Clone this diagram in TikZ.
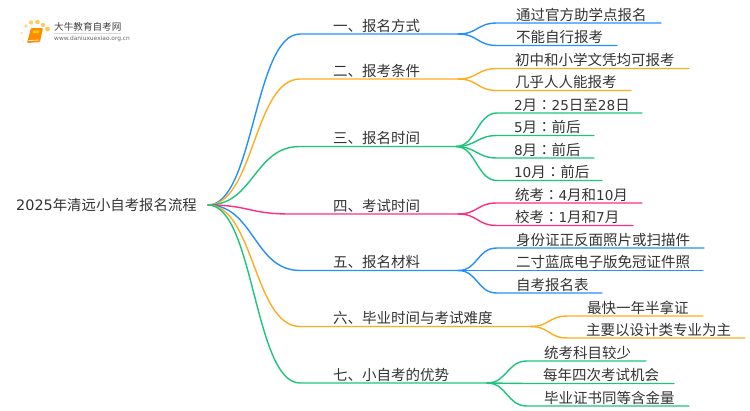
\documentclass[tikz,border=0pt]{standalone}
\usepackage{fontspec}
\setmainfont{Noto Sans CJK SC}
\newfontfamily\latinf{DejaVu Sans}
\newfontfamily\tcfont{Noto Sans CJK TC}
\newcommand{\Lt}[1]{{\latinf #1}}
\newcommand{\Ls}[1]{{\latinf\fontsize{13.6pt}{16pt}\selectfont #1}}
\newcommand{\Cl}{{\tcfont ：}}
\definecolor{cblue}{HTML}{2490FF}
\definecolor{corange}{HTML}{FFAD1F}
\definecolor{cgreen}{HTML}{1DC47A}
\definecolor{cpink}{HTML}{FF2E80}
\definecolor{ctext}{HTML}{333333}
\usetikzlibrary{calc}
\tikzset{
  x=1pt,y=-1pt,
  branch/.style={line width=1.4pt,line cap=round},
  lab/.style={anchor=south west,inner sep=0pt,outer sep=0pt,text height=12pt,text depth=2.8pt,align=left,font=\fontsize{14.5pt}{16pt}\selectfont,text=ctext},
  rootlab/.style={anchor=west,inner sep=0pt,font=\fontsize{14.4pt}{16pt}\selectfont,text=ctext},
}
% \branchnode{name}{x0}{x1}{yline}{indent}{text}
\newcommand{\branchnode}[6]{\node[lab,text width={#3pt-#2pt}] (#1) at (#2,#4) {\hspace*{#5pt}#6};}
% \link{from}{to}{colour}{from-anchor}{bend}
\newcommand{\link}[5]{\draw[branch,#3] (#1#4) .. controls +(#5,0) and ($(#2.south west)+(-#5,0)$) .. (#2.south west) -- (#2.south east);}
\begin{document}
\begin{tikzpicture}
\useasboundingbox (0,0) rectangle (750,410);
% logo
\foreach \p/\r/\cc in {{23,41}/1.0/FFE9B8,{22,33}/1.3/FFE3A6,{26,26}/1.9/FFD98A,{31,22.5}/2.2/FFCF6E,{37.5,22}/2.3/FFCB5E,{43,25}/2.1/FFCB5E,{47.5,29}/2.4/FFC850}{
  \definecolor{tmpc}{HTML}{\cc}
  \fill[tmpc] (\p) circle (\r);
}
\fill[rounded corners=1pt,fill=orange!90!yellow] (31,28) -- (43,28) -- (40,42) -- (27,43) -- cycle;
\draw[white!85!orange,line width=0.8pt] (28.5,40.6) -- (39,40);
\fill[yellow!70!orange] (33,30.5) -- (39.5,30.5) -- (39,33) -- (32.5,33) -- cycle;
\node[inner sep=0pt,anchor=west,font=\fontsize{9.6pt}{10pt}\selectfont,text=black!75] (logoa) at (54,27) {大牛教育自考网};
\node[inner sep=0pt,anchor=west,font=\fontsize{5.9pt}{7pt}\selectfont,text=black!60] (logob) at (54,39) {\Lt{www.daniuxuexiao.org.cn}};
\draw[black!15,line width=0.5pt] (54,33.5) -- (121,33.5);
% root
\node[rootlab] (root) at (16,205.5) {\Lt{2025}年清远小自考报名流程};
\coordinate (rootend) at (208,205);
% level one
\branchnode{a}{300}{458}{34}{33}{一、报名方式}
\branchnode{b}{300}{458}{79}{33}{二、报考条件}
\branchnode{c}{300}{456}{146.5}{33}{三、报名时间}
\branchnode{d}{290}{458}{214}{43}{四、考试时间}
\branchnode{e}{300}{458}{270.5}{33}{五、报名材料}
\branchnode{f}{300}{530}{326.5}{33}{六、毕业时间与考试难度}
\branchnode{g}{300}{487}{383}{33}{七、小自考的优势}
% level two
\branchnode{a1}{497}{661}{23}{19}{通过官方助学点报名}
\branchnode{a2}{497}{617}{45.5}{19}{不能自行报考}
\branchnode{b1}{497}{689}{68.5}{18}{初中和小学文凭均可报考}
\branchnode{b2}{497}{631}{90.5}{18}{几乎人人能报考}
\branchnode{c1}{497}{642}{113}{17}{\Ls{2}月\Cl\Ls{25}日至\Ls{28}日}
\branchnode{c2}{497}{594}{135.5}{17}{\Ls{5}月\Cl 前后}
\branchnode{c3}{497}{594}{158}{17}{\Ls{8}月\Cl 前后}
\branchnode{c4}{497}{602}{180.5}{17}{\Ls{10}月\Cl 前后}
\branchnode{d1}{497}{642}{203}{18}{统考\Cl\Ls{4}月和\Ls{10}月}
\branchnode{d2}{497}{633}{225.5}{18}{校考\Cl\Ls{1}月和\Ls{7}月}
\branchnode{e1}{497}{704}{248}{19}{身份证正反面照片或扫描件}
\branchnode{e2}{497}{703}{270.5}{19}{二寸蓝底电子版免冠证件照}
\branchnode{e3}{497}{602}{293}{19}{自考报名表}
\branchnode{f1}{568}{703}{316}{19}{最快一年半拿证}
\branchnode{f2}{568}{745}{338}{18}{主要以设计类专业为主}
\branchnode{g1}{527}{646}{361}{17}{统考科目较少}
\branchnode{g2}{527}{674}{383.5}{16}{每年四次考试机会}
\branchnode{g3}{527}{689}{406}{17}{毕业证书同等含金量}
% connectors
\link{rootend}{a}{cblue}{}{46}
\link{rootend}{b}{corange}{}{46}
\link{rootend}{c}{cgreen}{}{46}
\link{rootend}{d}{cpink}{}{41}
\link{rootend}{e}{cblue}{}{46}
\link{rootend}{f}{corange}{}{46}
\link{rootend}{g}{cgreen}{}{46}
\link{a}{a1}{cblue}{.south east}{20}
\link{a}{a2}{cblue}{.south east}{20}
\link{b}{b1}{corange}{.south east}{20}
\link{b}{b2}{corange}{.south east}{20}
\link{c}{c1}{cgreen}{.south east}{20}
\link{c}{c2}{cgreen}{.south east}{20}
\link{c}{c3}{cgreen}{.south east}{20}
\link{c}{c4}{cgreen}{.south east}{20}
\link{d}{d1}{cpink}{.south east}{20}
\link{d}{d2}{cpink}{.south east}{20}
\link{e}{e1}{cblue}{.south east}{20}
\link{e}{e2}{cblue}{.south east}{20}
\link{e}{e3}{cblue}{.south east}{20}
\link{f}{f1}{corange}{.south east}{20}
\link{f}{f2}{corange}{.south east}{20}
\link{g}{g1}{cgreen}{.south east}{20}
\link{g}{g2}{cgreen}{.south east}{20}
\link{g}{g3}{cgreen}{.south east}{20}
\end{tikzpicture}
\end{document}
